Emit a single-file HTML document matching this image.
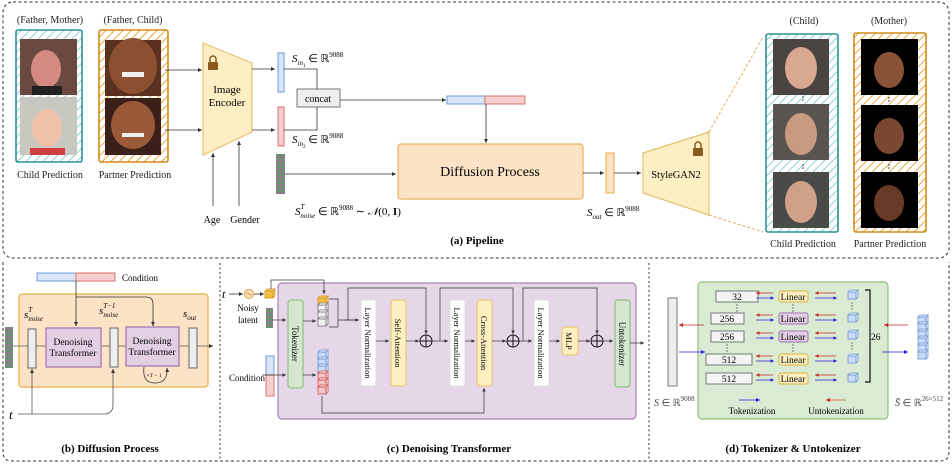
<!DOCTYPE html>
<html><head><meta charset="utf-8"><style>
html,body{margin:0;padding:0;background:#fff;}
svg{display:block;font-family:"Liberation Serif",serif;}
.it{font-style:italic}
</style></head><body>
<svg width="952" height="464" viewBox="0 0 952 464" xmlns="http://www.w3.org/2000/svg">
<defs>
<marker id="a" markerWidth="6" markerHeight="6" refX="5" refY="3" orient="auto"><path d="M0,0.5 L5,3 L0,5.5z" fill="#333"/></marker>
<marker id="ab" markerWidth="6" markerHeight="6" refX="5" refY="3" orient="auto"><path d="M0,0.5 L5,3 L0,5.5z" fill="#2222dd"/></marker>
<marker id="ar" markerWidth="6" markerHeight="6" refX="5" refY="3" orient="auto"><path d="M0,0.5 L5,3 L0,5.5z" fill="#cc2222"/></marker>
<pattern id="ht" width="6" height="6" patternUnits="userSpaceOnUse" patternTransform="rotate(45)"><rect width="6" height="6" fill="#fff"/><line x1="0" y1="0" x2="0" y2="6" stroke="#8fd0d8" stroke-width="2"/></pattern>
<pattern id="ho" width="6" height="6" patternUnits="userSpaceOnUse" patternTransform="rotate(45)"><rect width="6" height="6" fill="#fff"/><line x1="0" y1="0" x2="0" y2="6" stroke="#e8a840" stroke-width="2"/></pattern>
<pattern id="nz" width="4" height="4" patternUnits="userSpaceOnUse"><rect width="4" height="4" fill="#7a8a78"/><rect width="2" height="2" fill="#a06a9a"/><rect x="2" y="2" width="2" height="2" fill="#5a9a6a"/></pattern>
<g id="cube"><rect x="0" y="2" width="8" height="7" fill="#c9dcf5" stroke="#6d97d4" stroke-width="0.8"/><path d="M0,2 L2,0 L10,0 L8,2z M8,2 L10,0 L10,7 L8,9z" fill="#dfe9f8" stroke="#6d97d4" stroke-width="0.8"/></g>
<g id="cg"><rect x="0" y="2" width="8" height="7" fill="#f2f2f2" stroke="#777" stroke-width="0.8"/><path d="M0,2 L2,0 L10,0 L8,2z M8,2 L10,0 L10,7 L8,9z" fill="#fafafa" stroke="#777" stroke-width="0.8"/></g>
<g id="cr"><rect x="0" y="2" width="8" height="7" fill="#f3c5c5" stroke="#cc5555" stroke-width="0.8"/><path d="M0,2 L2,0 L10,0 L8,2z M8,2 L10,0 L10,7 L8,9z" fill="#f8dada" stroke="#cc5555" stroke-width="0.8"/></g>
<g id="co"><rect x="0" y="2" width="8" height="7" fill="#f5c040" stroke="#d09020" stroke-width="0.8"/><path d="M0,2 L2,0 L10,0 L8,2z M8,2 L10,0 L10,7 L8,9z" fill="#f8d070" stroke="#d09020" stroke-width="0.8"/></g>
<g id="lock"><path d="M-3,0 v-3 a3,3 0 0 1 6,0 v3" fill="none" stroke="#8a5a1a" stroke-width="1.5"/><rect x="-5" y="0" width="10" height="8" rx="1" fill="#8a5a1a"/></g>
</defs>

<rect x="3" y="2" width="946" height="256" rx="10" fill="none" stroke="#333" stroke-dasharray="3,2.5"/>
<path d="M3,262 V452 Q3,461 12,461 H940 Q949,461 949,452 V262" fill="none" stroke="#333" stroke-dasharray="3,2.5"/>
<line x1="220" y1="263" x2="220" y2="461" stroke="#333" stroke-dasharray="2,2.5"/>
<line x1="649" y1="263" x2="649" y2="461" stroke="#333" stroke-dasharray="2,2.5"/>

<g font-size="10" text-anchor="middle" fill="#222">
<text x="50" y="23">(Father, Mother)</text>
<text x="133" y="23">(Father, Child)</text>
<text x="50" y="178">Child Prediction</text>
<text x="135" y="178">Partner Prediction</text>
<text x="804" y="24">(Child)</text>
<text x="889" y="24">(Mother)</text>
<text x="803" y="247">Child Prediction</text>
<text x="890" y="247">Partner Prediction</text>
</g>
<rect x="16" y="30" width="66" height="132" fill="url(#ht)" stroke="#2a9098" stroke-width="1.6" rx="2"/>
<rect x="20" y="39" width="57" height="56" fill="#6a4a40"/><ellipse cx="46" cy="69" rx="15" ry="19" fill="#d48a80"/><rect x="32" y="86" width="30" height="9" fill="#222"/>
<rect x="20" y="97" width="57" height="58" fill="#c8c8c0"/><ellipse cx="47" cy="128" rx="15" ry="19" fill="#f0c0a8"/><rect x="30" y="148" width="35" height="7" fill="#d04040"/>
<rect x="99" y="30" width="69" height="132" fill="url(#ho)" stroke="#d08a18" stroke-width="1.6" rx="2"/>
<rect x="105" y="40" width="56" height="56" fill="#5a3020"/><ellipse cx="133" cy="66" rx="24" ry="28" fill="#8a5030"/><rect x="122" y="72" width="22" height="5" fill="#f0f0f0"/>
<rect x="105" y="98" width="56" height="57" fill="#3a2018"/><ellipse cx="133" cy="125" rx="22" ry="24" fill="#9a5a38"/><rect x="122" y="133" width="22" height="4" fill="#f0f0f0"/>

<line x1="165" y1="70" x2="202" y2="70" stroke="#333" stroke-width="0.8" marker-end="url(#a)"/>
<line x1="165" y1="130" x2="202" y2="130" stroke="#333" stroke-width="0.8" marker-end="url(#a)"/>
<path d="M203,43 L252,63 L252,132 L203,155z" fill="#fdeec4" stroke="#e6c070" stroke-width="1.2"/>
<use href="#lock" x="213" y="62"/>
<text x="227" y="93" font-size="11" text-anchor="middle">Image</text>
<text x="227" y="106" font-size="11" text-anchor="middle">Encoder</text>
<line x1="213" y1="206" x2="213" y2="153" stroke="#333" stroke-width="0.8" marker-end="url(#a)"/>
<line x1="239" y1="206" x2="239" y2="141" stroke="#333" stroke-width="0.8" marker-end="url(#a)"/>
<text x="212" y="223" font-size="10" text-anchor="middle">Age</text>
<text x="245" y="223" font-size="10" text-anchor="middle">Gender</text>
<line x1="252" y1="69" x2="275" y2="69" stroke="#333" stroke-width="0.8" marker-end="url(#a)"/>
<line x1="252" y1="130" x2="275" y2="130" stroke="#333" stroke-width="0.8" marker-end="url(#a)"/>
<rect x="278" y="53" width="6" height="39" fill="#dae6f8" stroke="#6f9bd8"/>
<rect x="278" y="107" width="6" height="39" fill="#f6d0d0" stroke="#d87070"/>
<text x="292" y="62" font-size="11"><tspan class="it">S</tspan><tspan class="it" font-size="7" dy="3">in</tspan><tspan font-size="5" dy="2">1</tspan><tspan dy="-5"> ∈ ℝ</tspan><tspan font-size="7" dy="-5">9088</tspan></text>
<text x="292" y="143" font-size="11"><tspan class="it">S</tspan><tspan class="it" font-size="7" dy="3">in</tspan><tspan font-size="5" dy="2">2</tspan><tspan dy="-5"> ∈ ℝ</tspan><tspan font-size="7" dy="-5">9088</tspan></text>
<path d="M284,69 H317 V89 M284,130 H317 V107" fill="none" stroke="#333" stroke-width="0.8"/>
<rect x="297" y="89" width="43" height="18" fill="#eee" stroke="#777"/>
<text x="318" y="102" font-size="10" text-anchor="middle">concat</text>
<line x1="340" y1="100" x2="446" y2="100" stroke="#333" stroke-width="0.8" marker-end="url(#a)"/>
<rect x="447" y="96" width="38" height="8" fill="#dae6f8" stroke="#6f9bd8"/>
<rect x="485" y="96" width="40" height="8" fill="#f6d0d0" stroke="#d87070"/>
<line x1="486" y1="104" x2="486" y2="143" stroke="#333" stroke-width="0.8" marker-end="url(#a)"/>
<rect x="276" y="154" width="9" height="40" fill="url(#nz)"/>
<line x1="285" y1="174" x2="396" y2="174" stroke="#333" stroke-width="0.8" marker-end="url(#a)"/>
<rect x="398" y="144" width="185" height="55" rx="3" fill="#fde3c6" stroke="#e8b060" stroke-width="1.2"/>
<text x="490" y="176" font-size="14" text-anchor="middle">Diffusion Process</text>
<text x="295" y="215" font-size="11"><tspan class="it">S</tspan><tspan class="it" font-size="7" dy="-6">T</tspan><tspan class="it" font-size="7" dx="-4" dy="9">noise</tspan><tspan dy="-3"> ∈ ℝ</tspan><tspan font-size="7" dy="-5">9088</tspan><tspan dy="5"> ∼ </tspan><tspan class="it">𝒩</tspan><tspan>(0, </tspan><tspan font-weight="bold">I</tspan><tspan>)</tspan></text>
<line x1="583" y1="173" x2="604" y2="173" stroke="#333" stroke-width="0.8" marker-end="url(#a)"/>
<rect x="606" y="153" width="8" height="40" fill="#fde3c6" stroke="#e8a840"/>
<line x1="614" y1="173" x2="641" y2="173" stroke="#333" stroke-width="0.8" marker-end="url(#a)"/>
<text x="587" y="216" font-size="11"><tspan class="it">S</tspan><tspan class="it" font-size="7" dy="3">out</tspan><tspan dy="-3"> ∈ ℝ</tspan><tspan font-size="7" dy="-5">9088</tspan></text>
<path d="M643,153 L709,132 L709,215 L643,193z" fill="#fdeec4" stroke="#e6c070" stroke-width="1.2"/>
<use href="#lock" x="698" y="148"/>
<text x="676" y="178" font-size="10.5" text-anchor="middle">StyleGAN2</text>
<line x1="709" y1="132" x2="763" y2="37" stroke="#e0b060" stroke-dasharray="3,2"/>
<line x1="709" y1="215" x2="763" y2="232" stroke="#e0b060" stroke-dasharray="3,2"/>

<rect x="766" y="34" width="72" height="198" fill="url(#ht)" stroke="#2a9098" stroke-width="1.6" rx="2"/>
<rect x="773" y="39" width="56" height="56" fill="#4a4440"/><ellipse cx="801" cy="68" rx="16" ry="21" fill="#d8a890"/>
<rect x="773" y="104" width="56" height="56" fill="#5a5450"/><ellipse cx="801" cy="134" rx="16" ry="21" fill="#c89a80"/>
<rect x="773" y="172" width="56" height="56" fill="#4a4a48"/><ellipse cx="801" cy="202" rx="16" ry="21" fill="#d0a088"/>
<rect x="854" y="33" width="72" height="199" fill="url(#ho)" stroke="#d08a18" stroke-width="1.6" rx="2"/>
<rect x="861" y="39" width="57" height="56" fill="#000"/><ellipse cx="889" cy="70" rx="15" ry="18" fill="#8a5238"/>
<rect x="861" y="105" width="57" height="56" fill="#000"/><ellipse cx="889" cy="136" rx="15" ry="18" fill="#7a4830"/>
<rect x="861" y="172" width="57" height="56" fill="#000"/><ellipse cx="889" cy="203" rx="15" ry="18" fill="#6a3a28"/>
<g fill="#333"><circle cx="803" cy="97" r="0.8"/><circle cx="803" cy="100" r="0.8"/><circle cx="803" cy="165" r="0.8"/><circle cx="803" cy="168" r="0.8"/><circle cx="889" cy="98" r="0.8"/><circle cx="889" cy="101" r="0.8"/><circle cx="889" cy="165" r="0.8"/><circle cx="889" cy="168" r="0.8"/></g>
<text x="477" y="244" font-size="11" font-weight="bold" text-anchor="middle">(a) Pipeline</text>

<rect x="37" y="273" width="39" height="8" fill="#dae6f8" stroke="#6f9bd8"/>
<rect x="76" y="273" width="39" height="8" fill="#f6d0d0" stroke="#d87070"/>
<text x="122" y="281" font-size="9">Condition</text>
<rect x="19" y="294" width="189" height="93" rx="3" fill="#fde3c6" stroke="#e8b040" stroke-width="1.2"/>
<rect x="5" y="327" width="8" height="41" fill="url(#nz)"/>
<line x1="13" y1="346" x2="213" y2="346" stroke="#555" stroke-width="0.8" marker-end="url(#a)"/>
<rect x="28" y="329" width="8" height="39" fill="#eee" stroke="#666"/>
<rect x="110" y="328" width="8" height="39" fill="#eee" stroke="#666"/>
<rect x="189" y="328" width="8" height="40" fill="#eee" stroke="#666"/>
<rect x="46" y="328" width="55" height="39" fill="#e2cfe4" stroke="#a070b0" stroke-width="1.2"/>
<rect x="126" y="327" width="53" height="39" fill="#e2cfe4" stroke="#a070b0" stroke-width="1.2"/>
<text x="73" y="345" font-size="9.5" text-anchor="middle">Denoising</text>
<text x="73" y="356" font-size="9.5" text-anchor="middle">Transformer</text>
<text x="152" y="344" font-size="9.5" text-anchor="middle">Denoising</text>
<text x="152" y="355" font-size="9.5" text-anchor="middle">Transformer</text>
<path d="M76,281 V326 M76,297 H146 Q153,297 153,304 V326" fill="none" stroke="#333" stroke-width="0.8"/>
<path d="M76,320 V326" stroke="#333" stroke-width="0.8" marker-end="url(#a)"/>
<path d="M153,320 V326" stroke="#333" stroke-width="0.8" marker-end="url(#a)"/>
<path d="M144,367 Q142,383 155,383 Q168,383 167,368" fill="none" stroke="#333" stroke-width="0.8" marker-end="url(#a)"/>
<text x="146" y="377" font-size="5.5" class="it">×T − 1</text>
<text x="24" y="318" font-size="11" class="it">s<tspan font-size="7" dy="-6">T</tspan><tspan font-size="7" dx="-4" dy="9">noise</tspan></text>
<text x="99" y="314" font-size="11" class="it">s<tspan font-size="7" dy="-6">T−1</tspan><tspan font-size="7" dx="-12" dy="9">noise</tspan></text>
<text x="183" y="317" font-size="11" class="it">s<tspan font-size="7" dy="3">out</tspan></text>
<text x="9" y="419" font-size="13" class="it">t</text>
<path d="M18,414 H104 Q113,414 113,405 V369" fill="none" stroke="#555" stroke-width="0.8" marker-end="url(#a)"/>
<line x1="32" y1="414" x2="32" y2="369" stroke="#555" stroke-width="0.8" marker-end="url(#a)"/>
<text x="110" y="452" font-size="11" font-weight="bold" text-anchor="middle">(b) Diffusion Process</text>

<text x="222" y="298" font-size="12" class="it">t</text>
<line x1="229" y1="294" x2="243" y2="294" stroke="#333" stroke-width="0.8" marker-end="url(#a)"/>
<circle cx="249" cy="294" r="4.5" fill="#fde3c6" stroke="#e0a030"/>
<path d="M246,294 q1.5,-2 3,0 t3,0" fill="none" stroke="#d08a18" stroke-width="0.7"/>
<line x1="254" y1="294" x2="264" y2="294" stroke="#333" stroke-width="0.8" marker-end="url(#a)"/>
<use href="#co" x="265" y="289"/>
<rect x="278" y="283" width="358" height="136" rx="4" fill="#e6d7e8" stroke="#a784b4" stroke-width="1.2"/>
<path d="M271,289 V280 H324 V294" fill="none" stroke="#333" stroke-width="0.7" marker-end="url(#a)"/>
<text x="248" y="311" font-size="9" text-anchor="middle">Noisy</text>
<text x="248" y="323" font-size="9" text-anchor="middle">latent</text>
<rect x="266" y="308" width="7" height="20" fill="url(#nz)"/>
<line x1="273" y1="320" x2="286" y2="320" stroke="#333" stroke-width="0.7" marker-end="url(#a)"/>
<text x="229" y="381" font-size="9">Condition</text>
<rect x="266" y="356" width="8" height="19" fill="#dae6f8" stroke="#6f9bd8"/>
<rect x="266" y="375" width="8" height="21" fill="#f6d0d0" stroke="#d87070"/>
<line x1="262" y1="375" x2="286" y2="375" stroke="#333" stroke-width="0.7" marker-end="url(#a)"/>
<rect x="288" y="300" width="15" height="88" rx="3" fill="#d5e8cf" stroke="#80b870"/>
<text transform="translate(292,344) rotate(90)" font-size="9" text-anchor="middle">Tokenizer</text>
<line x1="303" y1="321" x2="316" y2="321" stroke="#333" stroke-width="0.7" marker-end="url(#a)"/>
<line x1="303" y1="375" x2="316" y2="375" stroke="#333" stroke-width="0.7" marker-end="url(#a)"/>
<use href="#co" x="318" y="296"/><use href="#cg" x="318" y="303"/><use href="#cg" x="318" y="310"/><use href="#cg" x="318" y="317"/>
<use href="#cube" x="318" y="350"/><use href="#cube" x="318" y="357"/><use href="#cube" x="318" y="364"/>
<use href="#cr" x="318" y="371"/><use href="#cr" x="318" y="378"/><use href="#cr" x="318" y="385"/>
<path d="M329,299 H338 V327 H329 M338,320 H358" fill="none" stroke="#333" stroke-width="0.7"/>
<line x1="345" y1="320" x2="359" y2="320" stroke="#333" stroke-width="0.7" marker-end="url(#a)"/>
<path d="M348,320 V288 H426 V334" fill="none" stroke="#333" stroke-width="0.7" marker-end="url(#a)"/>
<rect x="361" y="300" width="15" height="86" rx="2" fill="#fff" stroke="#ddd"/>
<text transform="translate(365,343) rotate(90)" font-size="8.5" text-anchor="middle">Layer Normalization</text>
<line x1="376" y1="341" x2="389" y2="341" stroke="#333" stroke-width="0.7" marker-end="url(#a)"/>
<rect x="391" y="300" width="15" height="86" rx="3" fill="#fdf0c0" stroke="#e8c060"/>
<text transform="translate(395,343) rotate(90)" font-size="8.5" text-anchor="middle">Self-Attention</text>
<line x1="406" y1="341" x2="419" y2="341" stroke="#333" stroke-width="0.7" marker-end="url(#a)"/>
<g fill="none" stroke="#111" stroke-width="1"><circle cx="426" cy="341" r="6"/><path d="M420,341 H432 M426,335 V347"/></g>
<line x1="432" y1="341" x2="448" y2="341" stroke="#333" stroke-width="0.7" marker-end="url(#a)"/>
<path d="M440,341 V288 H513 V334" fill="none" stroke="#333" stroke-width="0.7" marker-end="url(#a)"/>
<rect x="450" y="300" width="15" height="86" rx="2" fill="#fff" stroke="#ddd"/>
<text transform="translate(454,343) rotate(90)" font-size="8.5" text-anchor="middle">Layer Normalization</text>
<line x1="465" y1="341" x2="475" y2="341" stroke="#333" stroke-width="0.7" marker-end="url(#a)"/>
<rect x="477" y="300" width="15" height="86" rx="3" fill="#fdf0c0" stroke="#e8c060"/>
<text transform="translate(481,343) rotate(90)" font-size="8.5" text-anchor="middle">Cross-Attention</text>
<line x1="492" y1="341" x2="506" y2="341" stroke="#333" stroke-width="0.7" marker-end="url(#a)"/>
<g fill="none" stroke="#111" stroke-width="1"><circle cx="513" cy="341" r="6"/><path d="M507,341 H519 M513,335 V347"/></g>
<path d="M322,396 V413 H484 V388" fill="none" stroke="#333" stroke-width="0.7" marker-end="url(#a)"/>
<line x1="519" y1="341" x2="532" y2="341" stroke="#333" stroke-width="0.7" marker-end="url(#a)"/>
<path d="M523,341 V288 H597 V334" fill="none" stroke="#333" stroke-width="0.7" marker-end="url(#a)"/>
<rect x="534" y="300" width="15" height="86" rx="2" fill="#fff" stroke="#ddd"/>
<text transform="translate(538,343) rotate(90)" font-size="8.5" text-anchor="middle">Layer Normalization</text>
<line x1="549" y1="341" x2="560" y2="341" stroke="#333" stroke-width="0.7" marker-end="url(#a)"/>
<rect x="562" y="327" width="16" height="28" rx="3" fill="#fdf0c0" stroke="#e8c060"/>
<text transform="translate(566,341) rotate(90)" font-size="8.5" text-anchor="middle">MLP</text>
<line x1="578" y1="341" x2="590" y2="341" stroke="#333" stroke-width="0.7" marker-end="url(#a)"/>
<g fill="none" stroke="#111" stroke-width="1"><circle cx="597" cy="341" r="6"/><path d="M591,341 H603 M597,335 V347"/></g>
<line x1="603" y1="341" x2="613" y2="341" stroke="#333" stroke-width="0.7" marker-end="url(#a)"/>
<rect x="615" y="300" width="15" height="87" rx="3" fill="#d5e8cf" stroke="#80b870"/>
<text transform="translate(619,344) rotate(90)" font-size="9" text-anchor="middle">Untokenizer</text>
<line x1="630" y1="343" x2="644" y2="343" stroke="#333" stroke-width="0.7" marker-end="url(#a)"/>
<text x="449" y="452" font-size="11" font-weight="bold" text-anchor="middle">(c) Denoising Transformer</text>

<rect x="668" y="298" width="9" height="88" fill="#eee" stroke="#777"/>
<rect x="698" y="282" width="190" height="137" rx="4" fill="#d9ebd3" stroke="#8cc27a" stroke-width="1.2"/>
<line x1="704" y1="325" x2="679" y2="325" stroke="#cc2222" stroke-width="0.8" marker-end="url(#ar)"/>
<line x1="679" y1="352" x2="705" y2="352" stroke="#2222dd" stroke-width="0.8" marker-end="url(#ab)"/>
<g font-size="9.5" text-anchor="middle">
<rect x="716" y="291" width="42" height="11" fill="#f4f4f4" stroke="#777"/><text x="737" y="300">32</text>
<rect x="711" y="313" width="33" height="11" fill="#f4f4f4" stroke="#777"/><text x="727" y="322">256</text>
<rect x="711" y="331" width="33" height="11" fill="#f4f4f4" stroke="#777"/><text x="727" y="340">256</text>
<rect x="706" y="354" width="46" height="11" fill="#f4f4f4" stroke="#777"/><text x="729" y="363">512</text>
<rect x="706" y="373" width="46" height="11" fill="#f4f4f4" stroke="#777"/><text x="729" y="382">512</text>
<rect x="779" y="291" width="29" height="11" rx="2" fill="#fdf0c0" stroke="#e0b040"/><text x="793" y="300">Linear</text>
<rect x="779" y="313" width="29" height="11" rx="2" fill="#e2cfe4" stroke="#a070b0"/><text x="793" y="322">Linear</text>
<rect x="779" y="331" width="29" height="11" rx="2" fill="#e2cfe4" stroke="#a070b0"/><text x="793" y="340">Linear</text>
<rect x="779" y="354" width="29" height="11" rx="2" fill="#fdf0c0" stroke="#e0b040"/><text x="793" y="363">Linear</text>
<rect x="779" y="373" width="29" height="11" rx="2" fill="#fdf0c0" stroke="#e0b040"/><text x="793" y="382">Linear</text>
</g>
<g stroke-width="0.7">
<g id="arrs">
<line x1="773" y1="293" x2="756" y2="293" stroke="#cc2222" marker-end="url(#ar)"/>
<line x1="756" y1="298" x2="774" y2="298" stroke="#2222dd" marker-end="url(#ab)"/>
<line x1="836" y1="293" x2="815" y2="293" stroke="#cc2222" marker-end="url(#ar)"/>
<line x1="815" y1="298" x2="837" y2="298" stroke="#2222dd" marker-end="url(#ab)"/>
</g>
<use href="#arrs" y="22"/><use href="#arrs" y="40"/><use href="#arrs" y="63"/><use href="#arrs" y="82"/>
</g>
<use href="#cube" x="848" y="290"/><use href="#cube" x="848" y="313"/><use href="#cube" x="848" y="330"/><use href="#cube" x="848" y="354"/><use href="#cube" x="848" y="373"/>
<g fill="#333"><circle cx="737" cy="305" r="0.6"/><circle cx="737" cy="308" r="0.6"/><circle cx="737" cy="311" r="0.6"/><circle cx="727" cy="345" r="0.6"/><circle cx="727" cy="348" r="0.6"/><circle cx="727" cy="351" r="0.6"/>
<circle cx="793" cy="305" r="0.6"/><circle cx="793" cy="308" r="0.6"/><circle cx="793" cy="311" r="0.6"/><circle cx="793" cy="345" r="0.6"/><circle cx="793" cy="348" r="0.6"/><circle cx="793" cy="351" r="0.6"/>
<circle cx="852" cy="303" r="0.6"/><circle cx="852" cy="306" r="0.6"/><circle cx="852" cy="309" r="0.6"/><circle cx="852" cy="343" r="0.6"/><circle cx="852" cy="346" r="0.6"/><circle cx="852" cy="349" r="0.6"/></g>
<path d="M865,290 H870 V382 H865" fill="none" stroke="#111" stroke-width="1.2"/>
<text x="871" y="340" font-size="9.5">26</text>
<line x1="908" y1="325" x2="884" y2="325" stroke="#cc2222" stroke-width="0.8" marker-end="url(#ar)"/>
<line x1="882" y1="352" x2="908" y2="352" stroke="#2222dd" stroke-width="0.8" marker-end="url(#ab)"/>
<use href="#cube" x="918" y="315"/><use href="#cube" x="918" y="322"/><use href="#cube" x="918" y="329"/><use href="#cube" x="918" y="336"/><use href="#cube" x="918" y="343"/><use href="#cube" x="918" y="350"/>
<text x="654" y="406" font-size="10" fill="#444"><tspan class="it">S</tspan> ∈ ℝ<tspan font-size="7" dy="-5">9088</tspan></text>
<text x="895" y="406" font-size="10" fill="#444"><tspan class="it">S̄</tspan> ∈ ℝ<tspan font-size="7" dy="-5">26×512</tspan></text>
<line x1="739" y1="400" x2="760" y2="400" stroke="#2222dd" stroke-width="0.8" marker-end="url(#ab)"/>
<line x1="846" y1="400" x2="826" y2="400" stroke="#dd5522" stroke-width="0.8" marker-end="url(#ar)"/>
<text x="752" y="414" font-size="9" text-anchor="middle">Tokenization</text>
<text x="836" y="414" font-size="9" text-anchor="middle">Untokenization</text>
<text x="793" y="452" font-size="11" font-weight="bold" text-anchor="middle">(d) Tokenizer &amp; Untokenizer</text>
</svg>
</body></html>
